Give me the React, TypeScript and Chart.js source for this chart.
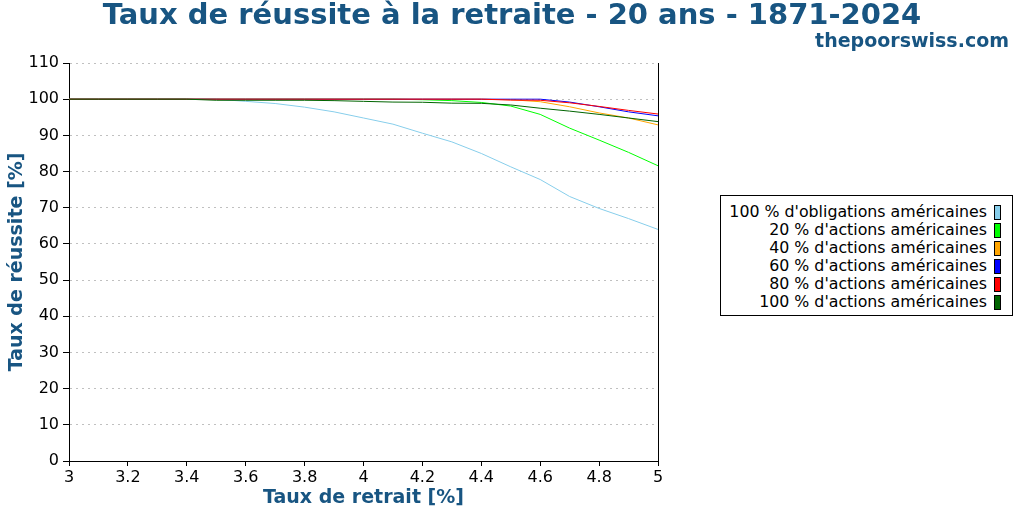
import { useEffect, useRef } from 'react';
import { Chart, registerables } from 'chart.js';

Chart.register(...registerables);

const withdrawalRates = [3.0, 3.1, 3.2, 3.3, 3.4, 3.5, 3.6, 3.7, 3.8, 3.9, 4.0, 4.1, 4.2, 4.3, 4.4, 4.5, 4.6, 4.7, 4.8, 4.9, 5.0];

const bonds100 = [100, 100, 100, 100, 100, 100, 99.4, 98.8, 97.8, 96.5, 94.8, 93.1, 90.6, 88.2, 85.0, 81.3, 77.8, 73.1, 69.8, 67.0, 64.0];
const stocks20 = [100, 100, 100, 100, 100, 100, 100, 100, 100, 100, 100, 100, 99.85, 99.6, 99.1, 98.1, 95.8, 92.0, 88.7, 85.3, 81.6];
const stocks40 = [100, 100, 100, 100, 100, 100, 100, 100, 100, 100, 100, 100, 100, 100, 100, 99.85, 99.3, 97.9, 96.2, 94.8, 92.9];
const stocks60 = [100, 100, 100, 100, 100, 100, 100, 100, 100, 100, 100, 100, 100, 100, 100, 100, 100, 99.2, 97.9, 96.5, 95.4];
const stocks80 = [100, 100, 100, 100, 100, 100, 100, 100, 100, 100, 100, 100, 100, 100, 100, 99.75, 99.7, 99.0, 98.0, 96.9, 95.9];
const stocks100 = [100, 100, 100, 100, 100, 99.7, 99.7, 99.7, 99.7, 99.6, 99.4, 99.2, 99.15, 98.9, 98.85, 98.4, 97.5, 96.7, 95.8, 94.8, 93.8];

const seriesLabels = [
  "100 % d'obligations américaines",
  "20 % d'actions américaines",
  "40 % d'actions américaines",
  "60 % d'actions américaines",
  "80 % d'actions américaines",
  "100 % d'actions américaines",
];
const seriesValues = [bonds100, stocks20, stocks40, stocks60, stocks80, stocks100];
const seriesColors = ['#87ceeb', '#00ff00', '#ffa500', '#0000ff', '#ff0000', '#006400'];

const TITLE_BLUE = '#185582';
const FONT = "'DejaVu Sans', sans-serif";

export default function App() {
  const canvasRef = useRef<HTMLCanvasElement>(null);
  const chartRef = useRef<Chart | null>(null);

  useEffect(() => {
    if (!canvasRef.current) return;
    if (chartRef.current) chartRef.current.destroy();

    const datasets = seriesValues.map((values, i) => ({
      label: seriesLabels[i],
      data: values.map((v, j) => ({ x: withdrawalRates[j], y: v })),
      borderColor: seriesColors[i],
      backgroundColor: seriesColors[i],
      borderWidth: 1,
      pointRadius: 0,
      tension: 0,
      fill: false,
      // last series drawn on top
      order: seriesValues.length - 1 - i,
    }));

    chartRef.current = new Chart(canvasRef.current, {
      type: 'line',
      data: { datasets },
      options: {
        animation: false,
        responsive: true,
        maintainAspectRatio: false,
        layout: { padding: { top: 63, left: 0, right: 0, bottom: 0 } },
        plugins: {
          legend: { display: false },
          tooltip: { enabled: false },
        },
        scales: {
          x: {
            type: 'linear',
            min: 3,
            max: 5,
            ticks: {
              stepSize: 0.2,
              color: '#000',
              padding: 2,
              font: { family: FONT, size: 16 },
              callback: (v: number | string) => String(parseFloat(Number(v).toFixed(1))),
            },
            grid: { drawOnChartArea: false, tickColor: '#000', tickLength: 5 },
            border: { color: '#000' },
            title: {
              display: true,
              text: 'Taux de retrait [%]',
              color: TITLE_BLUE,
              font: { family: FONT, size: 19, weight: 'bold' },
              padding: { top: 0, bottom: 3 },
            },
            afterFit: (scale: any) => { scale.height = 51; },
          },
          y: {
            min: 0,
            max: 110,
            ticks: { stepSize: 10, color: '#000', padding: 4, font: { family: FONT, size: 16 } },
            grid: { color: '#c0c0c0', lineWidth: 1, tickColor: '#000', tickLength: 6, tickBorderDash: [] },
            border: { color: '#000', dash: [2, 4] },
            title: {
              display: true,
              text: 'Taux de réussite [%]',
              color: TITLE_BLUE,
              font: { family: FONT, size: 19, weight: 'bold' },
              padding: { top: 6, bottom: 0 },
            },
            afterFit: (scale: any) => { scale.width = 69; },
          },
          yRight: {
            position: 'right',
            min: 0,
            max: 110,
            ticks: { display: false },
            grid: { display: false, drawTicks: false },
            border: { display: true, color: '#000' },
            afterFit: (scale: any) => { scale.width = 366; },
          },
        },
      } as any,
    });

    return () => {
      if (chartRef.current) {
        chartRef.current.destroy();
        chartRef.current = null;
      }
    };
  }, []);

  return (
    <div style={{ position: 'fixed', left: 0, top: 0, width: 1024, height: 512, background: '#fff', fontFamily: FONT }}>
      <canvas ref={canvasRef} />
      <div style={{ position: 'absolute', left: 0, top: 0, width: 1024, textAlign: 'center', fontSize: 29, fontWeight: 'bold', lineHeight: 1, color: TITLE_BLUE, whiteSpace: 'nowrap' }}>
        Taux de réussite à la retraite - 20 ans - 1871-2024
      </div>
      <div style={{ position: 'absolute', right: 15, top: 31, fontSize: 19, fontWeight: 'bold', lineHeight: 1, color: TITLE_BLUE }}>
        thepoorswiss.com
      </div>
      <div style={{ position: 'absolute', left: 720, top: 195, width: 291, border: '1px solid #000', padding: '7px 0 4px', background: '#fff' }}>
        {seriesLabels.map((label, i) => (
          <div key={label} style={{ display: 'flex', justifyContent: 'flex-end', alignItems: 'center', height: 18, fontSize: 15.8, lineHeight: '18px', paddingRight: 11, whiteSpace: 'nowrap', color: '#000' }}>
            <span>{label}</span>
            <span style={{ display: 'inline-block', width: 5, height: 13, marginLeft: 7, border: '1px solid #000', background: seriesColors[i] }} />
          </div>
        ))}
      </div>
    </div>
  );
}
